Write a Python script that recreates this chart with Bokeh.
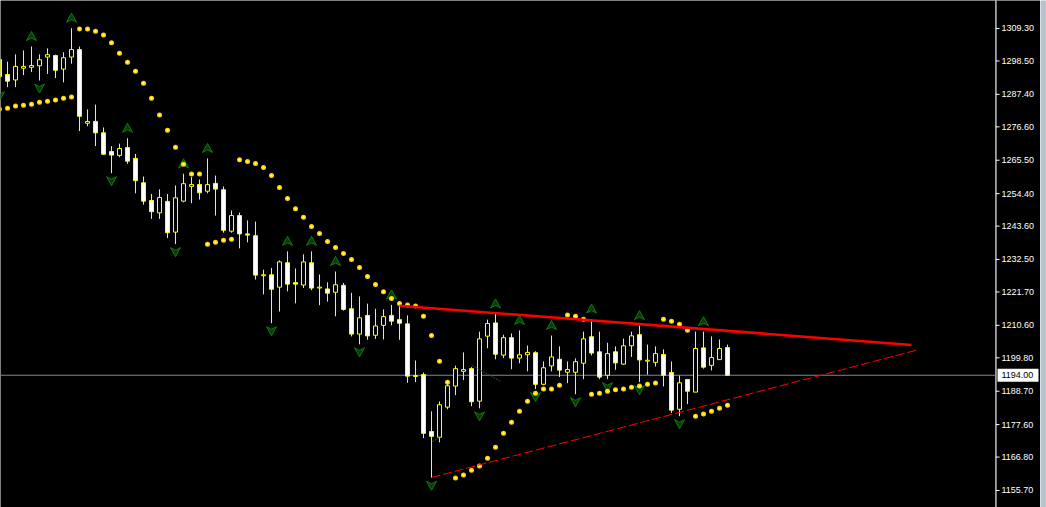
from bokeh.plotting import figure
from bokeh.models import Range1d, Span, ColumnDataSource
from bokeh.core.properties import value
from bokeh.layouts import row
from bokeh.embed import file_html
from bokeh.resources import INLINE

# ---- price data (one entry per bar, first bar index = -1) ----
first_bar = -1
opens = [1299.0, 1294.0, 1292.2, 1296.1, 1296.4, 1296.9, 1299.8, 1300.3, 1295.8, 1299.8,
         1302.3, 1277.8, 1278.4, 1274.6, 1268.4, 1267.1, 1269.7, 1266.1, 1258.0, 1252.1,
         1248.0, 1251.8, 1241.6, 1251.9, 1256.8, 1257.4, 1255.2, 1257.8, 1255.7, 1241.9,
         1247.1, 1241.0, 1240.4, 1227.1, 1227.4, 1223.3, 1231.4, 1224.8, 1224.0, 1231.4,
         1223.0, 1222.7, 1221.6, 1223.9, 1216.1, 1207.7, 1213.9, 1207.3, 1210.6, 1213.9,
         1212.5, 1211.1, 1193.6, 1194.2, 1175.3, 1173.4, 1183.4, 1190.4, 1195.3, 1196.2,
         1185.4, 1207.0, 1211.4, 1200.7, 1206.5, 1199.7, 1200.8, 1201.5, 1191.0, 1197.1,
         1199.3, 1195.0, 1195.0, 1198.0, 1206.8, 1201.8, 1194.0, 1201.8, 1197.7, 1203.8,
         1207.5, 1198.7, 1198.3, 1200.9, 1194.9, 1182.7, 1192.6, 1188.4, 1203.1, 1197.3,
         1199.2, 1203.2]
highs = [1300.3, 1298.3, 1300.7, 1302.0, 1303.3, 1300.7, 1302.7, 1300.6, 1301.4, 1309.4,
         1303.3, 1282.4, 1284.0, 1276.4, 1270.2, 1271.0, 1272.8, 1267.6, 1260.1, 1254.3,
         1255.8, 1254.3, 1257.1, 1261.0, 1259.9, 1259.1, 1266.1, 1260.4, 1256.8, 1248.8,
         1248.1, 1245.5, 1245.1, 1229.1, 1229.7, 1232.2, 1235.2, 1229.5, 1234.2, 1235.2,
         1227.5, 1224.9, 1228.5, 1224.7, 1221.4, 1220.2, 1217.8, 1216.1, 1215.9, 1217.4,
         1217.9, 1213.9, 1198.9, 1194.9, 1182.0, 1185.3, 1192.3, 1197.2, 1201.6, 1196.7,
         1208.5, 1212.5, 1214.4, 1207.5, 1207.9, 1208.9, 1203.9, 1202.0, 1198.6, 1207.2,
         1203.6, 1198.6, 1199.6, 1208.5, 1212.7, 1208.5, 1204.8, 1203.6, 1206.2, 1208.5,
         1210.5, 1204.2, 1203.6, 1202.6, 1198.6, 1193.9, 1192.6, 1208.5, 1208.5, 1206.9,
         1205.9, 1204.2]
lows = [1289.4, 1289.8, 1289.8, 1293.8, 1294.8, 1292.0, 1294.2, 1292.8, 1291.4, 1297.6,
        1275.2, 1276.8, 1270.2, 1267.4, 1261.2, 1266.5, 1264.3, 1254.5, 1250.7, 1246.0,
        1246.0, 1239.6, 1237.6, 1251.5, 1251.2, 1252.4, 1254.5, 1247.1, 1241.4, 1241.4,
        1236.2, 1238.2, 1225.8, 1220.9, 1211.3, 1215.2, 1221.9, 1217.9, 1223.0, 1222.3,
        1217.3, 1218.5, 1213.6, 1215.5, 1206.9, 1204.3, 1205.8, 1206.1, 1205.9, 1210.6,
        1205.8, 1191.5, 1191.7, 1173.1, 1159.9, 1171.7, 1182.7, 1187.4, 1192.4, 1183.7,
        1183.0, 1203.0, 1199.3, 1199.7, 1196.0, 1198.0, 1195.3, 1189.4, 1190.7, 1195.3,
        1193.4, 1191.4, 1187.7, 1192.7, 1200.6, 1192.7, 1192.7, 1195.8, 1197.5, 1200.1,
        1191.7, 1194.2, 1196.9, 1190.3, 1181.5, 1180.4, 1184.4, 1188.4, 1196.2, 1195.6,
        1199.2, 1193.8]
closes = [1293.3, 1291.8, 1296.7, 1296.7, 1297.0, 1298.9, 1300.6, 1295.4, 1299.6, 1302.3,
          1280.1, 1278.4, 1274.6, 1267.5, 1267.2, 1269.4, 1265.2, 1258.7, 1251.9, 1248.4,
          1253.1, 1241.4, 1253.0, 1257.7, 1257.4, 1254.7, 1257.4, 1255.9, 1242.2, 1247.1,
          1241.0, 1240.6, 1227.3, 1227.4, 1222.6, 1231.7, 1224.3, 1224.3, 1231.7, 1223.0,
          1223.3, 1221.3, 1224.1, 1215.9, 1207.7, 1213.1, 1207.1, 1210.4, 1213.5, 1212.0,
          1211.3, 1193.7, 1193.9, 1174.7, 1173.7, 1184.2, 1190.5, 1196.2, 1195.9, 1185.2,
          1206.1, 1211.2, 1201.0, 1206.5, 1199.7, 1200.8, 1201.6, 1191.0, 1196.5, 1200.1,
          1195.7, 1195.9, 1198.5, 1206.1, 1201.4, 1193.4, 1201.2, 1198.1, 1203.8, 1207.1,
          1199.1, 1199.0, 1201.2, 1194.0, 1182.4, 1191.5, 1188.7, 1202.9, 1196.7, 1199.9,
          1202.9, 1194.0]

# Parabolic SAR value of each bar
sar_values = [1282.5, 1282.8, 1283.5, 1283.8, 1284.1, 1284.8, 1285.1, 1285.5, 1286.1, 1286.5,
              1309.1, 1309.1, 1308.4, 1307.1, 1304.6, 1301.1, 1298.1, 1295.1, 1291.1, 1286.1,
              1280.5, 1275.5, 1269.8, 1264.2, 1260.9, 1260.9, 1237.6, 1238.2, 1238.9, 1239.2,
              1265.7, 1265.1, 1264.4, 1263.1, 1260.4, 1256.4, 1252.8, 1249.4, 1246.5, 1243.5,
              1241.1, 1238.5, 1236.5, 1234.5, 1232.5, 1229.8, 1226.8, 1224.2, 1221.8, 1219.5,
              1217.9, 1217.4, 1217.0, 1213.6, 1207.2, 1198.7, 1191.7, 1159.8, 1160.8, 1162.4,
              1163.8, 1166.4, 1170.1, 1174.7, 1178.4, 1182.0, 1185.4, 1188.0, 1189.4, 1189.4,
              1190.7, 1214.0, 1213.6, 1212.6, 1187.7, 1188.0, 1188.7, 1189.2, 1189.4, 1190.0,
              1190.4, 1191.0, 1191.4, 1212.6, 1212.0, 1211.0, 1209.0, 1180.4, 1181.1, 1182.0,
              1183.0, 1184.0]

# Bill Williams fractals (bar indices)
fractal_up_bars = [3, 8, 15, 22, 25, 35, 38, 41, 48, 61, 64, 68, 73, 79, 87]
fractal_down_bars = [-1, 4, 13, 21, 33, 44, 53, 59, 66, 71, 75, 79, 84]

# Hand-drawn trend lines: (bar, price) anchors
resistance_bars = [49.0, 113.0]
resistance_prices = [1217.1, 1204.1]
support_bars = [53.0, 113.85]
support_prices = [1160.0, 1202.5]

# short dotted helper strokes
helper_bars = [[53.1, 54.1], [58.1, 61.7]]
helper_prices = [[1172.0, 1173.3], [1197.2, 1191.9]]

price_ticks = [1309.30, 1298.50, 1287.40, 1276.60, 1265.50, 1254.40, 1243.60, 1232.50,
               1221.70, 1210.60, 1199.80, 1188.70, 1177.60, 1166.80, 1155.70]
last_price = 1194.00

# ---- layout geometry ----
FRAME_W, FRAME_H = 995, 507
SCALE_W = 45
EDGE_W = 6
x_lo, x_hi = -0.875, 123.5
y_lo, y_hi = 1150.03, 1318.61
px_x = (x_hi - x_lo) / FRAME_W      # data units per pixel, horizontally
px_y = (y_hi - y_lo) / FRAME_H      # data units per pixel, vertically

YELLOW = "#ffff00"
AXIS_FONT = value("Liberation Sans")

bars = list(range(first_bar, first_bar + len(opens)))
tops = [max(o, c) for o, c in zip(opens, closes)]
bottoms = [min(o, c) for o, c in zip(opens, closes)]
fills = ["#ffffff" if c < o else "#000000" for o, c in zip(opens, closes)]

candles = ColumnDataSource(dict(x=bars, high=highs, low=lows, top=tops, bottom=bottoms, fill=fills))

y_range = Range1d(y_lo, y_hi)

p = figure(width=FRAME_W, height=FRAME_H,
           x_range=Range1d(x_lo, x_hi), y_range=y_range,
           x_axis_location=None, y_axis_location=None,
           toolbar_location=None, output_backend="svg",
           background_fill_color="#000000", border_fill_color="#000000",
           min_border=0)
p.outline_line_color = None
p.grid.visible = False

# last price line
p.add_layout(Span(location=last_price, dimension="width", line_color="#778899",
                  line_width=1, level="underlay"))

# candles: wicks then bodies
p.segment(x0="x", y0="low", x1="x", y1="high", source=candles, line_color=YELLOW, line_width=1)
p.vbar(x="x", width=4 * px_x, top="top", bottom="bottom", source=candles,
       fill_color="fill", line_color=YELLOW, line_width=1)

# fractal arrowheads
up_shape = [(0, 5), (5, -4), (0, -1.5), (-5, -4)]
down_shape = [(dx, -dy) for dx, dy in up_shape]
fx, fy = [], []
for b in fractal_up_bars:
    cx, cy = b, highs[b - first_bar] + 10 * px_y
    fx.append([cx + dx * px_x for dx, dy in up_shape])
    fy.append([cy + dy * px_y for dx, dy in up_shape])
for b in fractal_down_bars:
    cx, cy = b, lows[b - first_bar] - 7.5 * px_y
    fx.append([cx + dx * px_x for dx, dy in down_shape])
    fy.append([cy + dy * px_y for dx, dy in down_shape])
p.patches(fx, fy, fill_color="#063f06", line_color="#127812", line_width=1)

# parabolic SAR dots
p.scatter(bars, sar_values, size=5, marker="circle", fill_color="#ffd700", line_color=None)
p.scatter(bars, sar_values, size=2, marker="circle", fill_color="#fffbd0", line_color=None)

# faint helper strokes
p.multi_line(helper_bars, helper_prices, line_color="#2f4f4f", line_width=1, line_dash="2 1")

# trend lines
p.line(resistance_bars, resistance_prices, line_color="#ff0000", line_width=2.5)
p.line(support_bars, support_prices, line_color="#ff0000", line_width=1, line_dash="9 3")

# ---- price scale panel (shares the price range, x measured in pixels) ----
scale = figure(width=SCALE_W, height=FRAME_H,
               x_range=Range1d(0, SCALE_W), y_range=y_range,
               x_axis_location=None, y_axis_location=None,
               toolbar_location=None, output_backend="svg",
               background_fill_color="#000000", border_fill_color="#000000",
               min_border=0)
scale.outline_line_color = None
scale.grid.visible = False

tick_labels = ["%.2f" % t for t in price_ticks]
scale.segment(x0=[0.5], y0=[y_lo], x1=[0.5], y1=[y_hi], line_color="#ffffff", line_width=1)
scale.segment(x0=[0] * len(price_ticks), y0=price_ticks, x1=[4] * len(price_ticks), y1=price_ticks,
              line_color="#ffffff", line_width=1)
scale.text(x=[6] * len(price_ticks), y=price_ticks, text=tick_labels,
           text_font=AXIS_FONT, text_font_size="9px", text_color="#ffffff",
           text_baseline="middle", text_align="left")

# last price tag
tag_half = 6.5 * px_y
scale.quad(left=[2], right=[43], bottom=[last_price - tag_half], top=[last_price + tag_half],
           fill_color="#ffffff", line_color=None)
scale.text(x=[6], y=[last_price], text=["%.2f" % last_price],
           text_font=AXIS_FONT, text_font_size="9px", text_color="#000000",
           text_baseline="middle", text_align="left")

# window edge strip
edge = figure(width=EDGE_W, height=FRAME_H, x_range=Range1d(0, 1), y_range=Range1d(0, 1),
              x_axis_location=None, y_axis_location=None, toolbar_location=None,
              output_backend="svg", background_fill_color="#b9c3cd",
              border_fill_color="#b9c3cd", min_border=0)
edge.outline_line_color = None
edge.grid.visible = False

layout = row(p, scale, edge, spacing=0)
open("out.html", "w").write(file_html(layout, INLINE))
